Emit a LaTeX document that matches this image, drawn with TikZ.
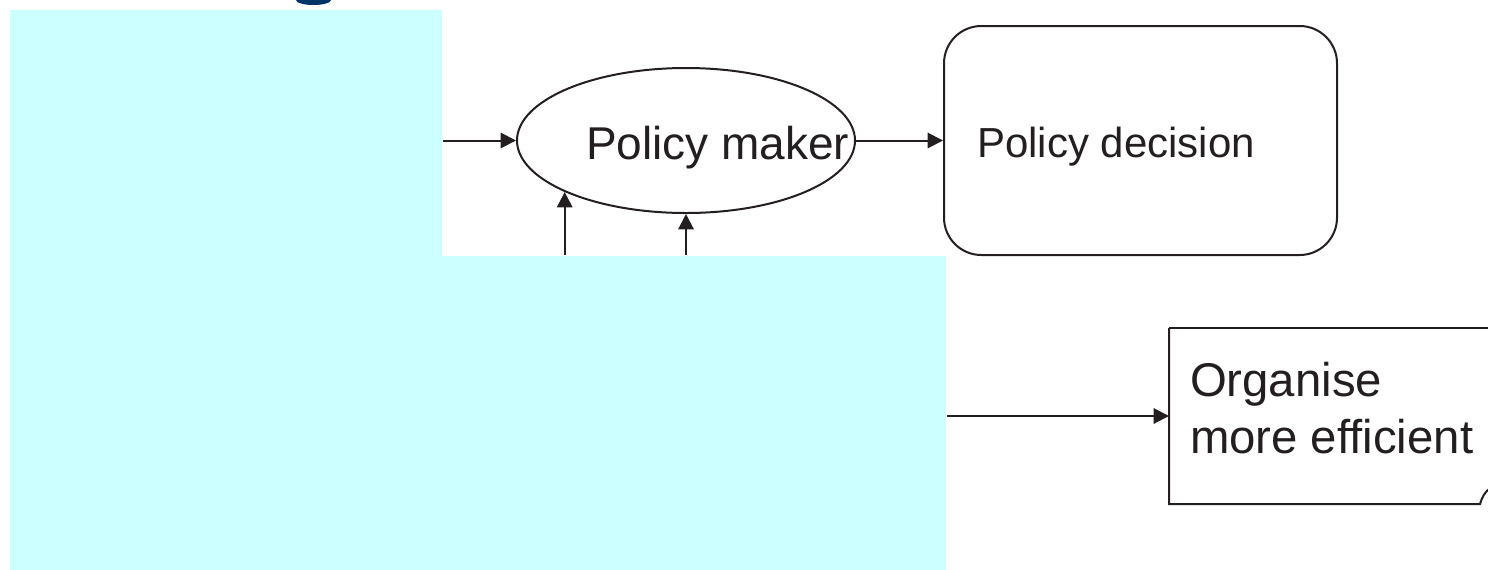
\documentclass[tikz,border=0pt]{standalone}
\usepackage{fontspec}
\setmainfont{Liberation Sans}
\usepackage{tikz}
\usetikzlibrary{shapes.geometric,arrows.meta}
\definecolor{cover}{HTML}{CCFFFF}
\definecolor{titleblue}{HTML}{003366}
\definecolor{ink}{HTML}{231F20}

\begin{document}
\begin{tikzpicture}[x=0.75pt,y=-0.75pt,line width=1.5pt,
	every node/.style={inner sep=0pt,text=ink},
	box/.style={draw=ink},
	coverbox/.style={fill=cover,draw=none,anchor=north west},
	arrow/.style={draw=ink,-{Triangle[length=11.5pt,width=11.5pt]}}]
	\useasboundingbox (0,0) rectangle (1488,569);
	\clip (0,0) rectangle (1488,569);
	\fill[titleblue] (313.5,0) ellipse [x radius=17.5,y radius=5];
	\node (pm) [box,ellipse,minimum width=253.5pt,minimum height=108.75pt] at (686,140.5) {};
	\node (pmtext) [anchor=base west,font=\fontsize{34.5}{40}\selectfont] at (585,159) {Policy maker};
	\node (pd) [box,rounded corners=28pt,minimum width=294.75pt,minimum height=171.75pt] at (1140.5,140.5) {};
	\node (pdtext) [anchor=base west,font=\fontsize{31.5}{38}\selectfont] at (976,157) {Policy decision};
	\node (org) [anchor=north west,minimum width=240pt,minimum height=130.5pt] at (1169,328) {};
	\node (orgtext) [anchor=north west,align=left,font=\fontsize{35.5}{42.75}\selectfont] at (1189,361) {Organise\\more efficient};
	\draw[ink] (org.north west) -- ++(400,0);
	\draw[ink] (org.north west) -- (org.south west) -- (1480,504) .. controls (1482,497) and (1485,492) .. (1490,488);
	\node (topcover) [coverbox,minimum width=324pt,minimum height=184.5pt] at (9,9) {};
	\node (lowcover) [coverbox,minimum width=702pt,minimum height=235.5pt] at (9,255) {};
	\draw[arrow] (topcover.east |- pm.west) -- (pm.west);
	\draw[arrow] (pm.east) -- (pd.west);
	\draw[arrow] (lowcover.north -| pm.203) -- (pm.203);
	\draw[arrow] (lowcover.north -| pm.south) -- (pm.south);
	\draw[arrow] (lowcover.east |- org.west) -- (org.west);
\end{tikzpicture}
\end{document}
